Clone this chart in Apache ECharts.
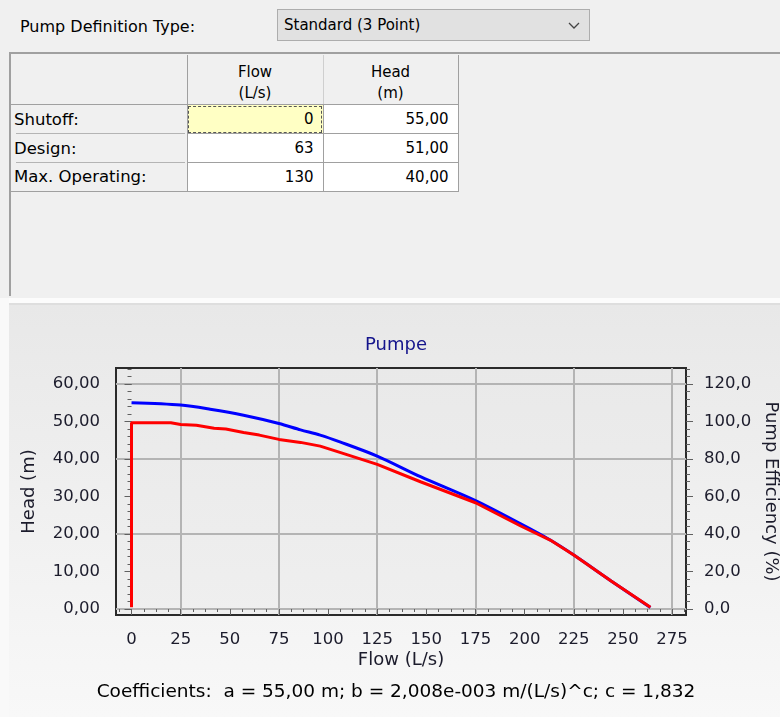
<!DOCTYPE html>
<html>
<head>
<meta charset="utf-8">
<title>Pumpe</title>
<script src="https://cdn.jsdelivr.net/npm/echarts@6/dist/echarts.min.js"></script>
<style>
  html, body { margin: 0; padding: 0; }
  body { position: relative; width: 780px; height: 717px; background: #f0f0f0; overflow: hidden;
         font: 15px "DejaVu Sans", sans-serif; color: #000; }
  .lbl { position: absolute; left: 20px; top: 17px; line-height: 20px; font-size: 16px; }
  .combo { position: absolute; left: 277px; top: 9px; width: 313px; height: 32px; box-sizing: border-box;
           border: 1px solid #adadad; background: #e1e1e1; padding-left: 6px; line-height: 30px; }
  .combo svg { position: absolute; right: 9px; top: 12px; }
  .panel { position: absolute; left: 9px; top: 52px; width: 771px; height: 244px; box-sizing: border-box;
           border-top: 2px solid #a0a0a0; border-left: 2px solid #a0a0a0; }
  .sep1 { position: absolute; left: 9px; top: 298px; width: 771px; height: 5px; background: #fcfcfc; }
  .sep2 { position: absolute; left: 9px; top: 303px; width: 771px; height: 2px; background: #dedede; }
  .lower { position: absolute; left: 9px; top: 305px; width: 771px; height: 412px;
           background: linear-gradient(#e8e8e8, #f8f8f8); }
  .strip { position: absolute; left: 0; top: 298px; width: 9px; height: 419px; background: #f9f9f9; }
  #pumpTable { position: absolute; left: 11px; top: 55px; border-collapse: collapse; table-layout: fixed;
               font: 15px "DejaVu Sans", sans-serif; border-bottom: 1px solid #a0a0a0; border-right: 1px solid #a0a0a0; }
  #pumpTable th { font-weight: normal; background: #f0f0f0; }
  #pumpTable thead th { height: 49px; padding: 7px 0 0 0; box-sizing: border-box; vertical-align: top;
                        line-height: 21px; text-align: center; border-bottom: 1px solid #a0a0a0; }
  #pumpTable thead th.corner { border-right: 1px solid #a0a0a0; }
  #pumpTable thead th.mid { border-right: 1px solid #cfcfcf; }
  #pumpTable tbody th { position: relative; text-align: left; padding: 0 0 0 3px; height: 29px; font-size: 16.5px;
                        box-sizing: border-box; border-right: 1px solid #a0a0a0; }
  #pumpTable tbody th::after { content: ''; position: absolute; left: 5px; right: 2px; bottom: -1px; height: 2px; background: #b4b4b4; }
  #pumpTable tbody tr:last-child th::after { display: none; }
  #pumpTable td { background: #fff; text-align: right; padding: 0 9px 0 0; height: 29px; box-sizing: border-box;
                  border: 1px solid #a0a0a0; }
  #pumpTable td.active { background: #ffffc4; outline: 1px dashed #555; outline-offset: -2px; }
  #chart { position: absolute; left: 0; top: 0; width: 780px; height: 717px; }
</style>
</head>
<body>
<div class="lbl">Pump Definition Type:</div>
<div class="combo">Standard (3 Point)
  <svg width="12" height="8" viewBox="0 0 12 8"><polyline points="1,1 6,6 11,1" fill="none" stroke="#444" stroke-width="1.3"/></svg>
</div>
<div class="panel"></div>
<table id="pumpTable">
  <colgroup><col style="width:176px"><col style="width:136px"><col style="width:135px"></colgroup>
  <thead><tr><th class="corner"></th><th class="mid">Flow<br>(L/s)</th><th>Head<br>(m)</th></tr></thead>
  <tbody></tbody>
</table>
<div class="strip"></div>
<div class="sep1"></div>
<div class="sep2"></div>
<div class="lower"></div>
<div id="chart"></div>
<script>
// pump definition table
const rowLabels = ['Shutoff:', 'Design:', 'Max. Operating:']
const tableFlow = ['0', '63', '130']
const tableHead = ['55,00', '51,00', '40,00']

// pump head curve (blue): flow L/s, head m
const headFlow = [0, 25, 40, 57, 75, 86, 96, 106, 125, 147, 175, 198, 213, 225, 244, 264]
const headValues = [55.0, 54.4, 53.3, 51.7, 49.5, 47.8, 46.4, 44.6, 40.8, 35.3, 28.9, 22.7, 18.4, 14.4, 7.5, 0.4]

// pump efficiency curve (red): flow L/s, efficiency %
const effFlow = [0, 0, 20, 25, 33, 42, 48, 57, 65, 75, 86, 96, 106, 125, 147, 175, 198, 213, 225, 244, 264]
const effValues = [0.9, 99.4, 99.4, 98.5, 98.1, 96.4, 96.0, 94.2, 92.8, 90.5, 88.9, 86.9, 83.6, 77.2, 67.9, 56.7, 44.3, 36.8, 28.8, 14.9, 0.9]

// tick labels
const flowTicks = [0, 25, 50, 75, 100, 125, 150, 175, 200, 225, 250, 275]
const headTicks = [0, 10, 20, 30, 40, 50, 60]
const effTicks = [0, 20, 40, 60, 80, 100, 120]
const flowGrid = [25, 75, 125, 175, 225, 275]
const headGrid = [0, 20, 40, 60]

const chartTitle = 'Pumpe'
const coefText = 'Coefficients:  a = 55,00 m; b = 2,008e-003 m/(L/s)^c; c = 1,832'

const tbody = document.querySelector('#pumpTable tbody')
rowLabels.forEach((label, i) => {
  const tr = document.createElement('tr')
  tr.innerHTML = '<th>' + label + '</th><td' + (i === 0 ? ' class="active"' : '') + '>' + tableFlow[i] + '</td><td>' + tableHead[i] + '</td>'
  tbody.appendChild(tr)
})

const font = 'DejaVu Sans'
const textColor = '#1c1c2c'
const labelSize = 16.5
const nameSize = 18

function comma(v, d) {
  return v.toFixed(d).replace('.', ',')
}

function steps(from, to, step) {
  const out = []
  for (let v = from; v <= to + 1e-9; v += step) out.push(+v.toFixed(4))
  return out
}

const xRange = { min: -7.9, max: 282.1 }
const leftRange = { min: -1.6, max: 64.3 }
const rightRange = { min: -3.2, max: 128.6 }

const hidden = { axisLine: { show: false }, axisLabel: { show: false }, splitLine: { show: false } }
const tickColor = '#606060'
const nameStyle = { color: textColor, fontFamily: font, fontSize: nameSize }

const chart = echarts.init(document.getElementById('chart'))
chart.setOption({
  backgroundColor: 'transparent',
  animation: false,
  grid: {
    left: 116,
    right: 94,
    top: 368,
    bottom: 102,
    outerBoundsMode: 'none',
    containLabel: false,
    show: true,
    backgroundColor: new echarts.graphic.LinearGradient(0, 0, 0, 1, [
      { offset: 0, color: '#e9e9e9' },
      { offset: 1, color: '#efefef' }
    ]),
    borderColor: '#2a2a2a',
    borderWidth: 2
  },
  xAxis: [
    {
      type: 'value', position: 'bottom', ...xRange,
      name: 'Flow (L/s)', nameLocation: 'middle', nameGap: 36, nameTextStyle: nameStyle,
      axisLine: { show: false },
      axisTick: { show: true, length: 6, customValues: flowTicks, lineStyle: { color: tickColor } },
      axisLabel: { customValues: flowTicks, margin: 16, color: textColor, fontFamily: font, fontSize: labelSize },
      splitLine: { show: false }
    },
    {
      type: 'value', position: 'bottom', ...xRange, ...hidden,
      axisTick: { show: true, length: 3, customValues: steps(-6.25, 281.25, 6.25), lineStyle: { color: tickColor } }
    },
    {
      type: 'value', position: 'bottom', ...xRange, axisLine: { show: false }, axisLabel: { show: false },
      axisTick: { show: false, customValues: flowGrid },
      splitLine: { show: true, lineStyle: { color: '#b4b4b4', width: 2 } }
    }
  ],
  yAxis: [
    {
      type: 'value', position: 'left', ...leftRange,
      name: 'Head (m)', nameLocation: 'middle', nameGap: 78, nameTextStyle: nameStyle,
      axisLine: { show: false },
      axisTick: { show: true, length: 7, customValues: headTicks, lineStyle: { color: tickColor } },
      axisLabel: { customValues: headTicks, margin: 16, formatter: v => comma(v, 2), color: textColor, fontFamily: font, fontSize: labelSize },
      splitLine: { show: false }
    },
    {
      type: 'value', position: 'left', ...leftRange, ...hidden,
      axisTick: { show: true, length: 4, customValues: steps(0, 64, 2), lineStyle: { color: tickColor } }
    },
    {
      type: 'value', position: 'left', ...leftRange, axisLine: { show: false }, axisLabel: { show: false },
      axisTick: { show: false, customValues: headGrid },
      splitLine: { show: true, lineStyle: { color: '#b4b4b4', width: 2 } }
    },
    {
      type: 'value', position: 'right', ...rightRange,
      name: 'Pump Efficiency (%)', nameLocation: 'middle', nameGap: 76, nameRotate: -90, nameTextStyle: nameStyle,
      axisLine: { show: false },
      axisTick: { show: true, length: 7, customValues: effTicks, lineStyle: { color: tickColor } },
      axisLabel: { customValues: effTicks, margin: 18, formatter: v => comma(v, 1), color: textColor, fontFamily: font, fontSize: labelSize },
      splitLine: { show: false }
    },
    {
      type: 'value', position: 'right', ...rightRange, ...hidden,
      axisTick: { show: true, length: 4, customValues: steps(0, 128, 4), lineStyle: { color: tickColor } }
    }
  ],
  graphic: [
    {
      type: 'text', x: 396, y: 345,
      style: { text: chartTitle, fill: '#14148c', font: '18px "DejaVu Sans"', align: 'center', verticalAlign: 'middle', textAlign: 'center', textVerticalAlign: 'middle' }
    },
    {
      type: 'text', x: 396, y: 692,
      style: { text: coefText, fill: '#000', font: '18.5px "DejaVu Sans"', align: 'center', verticalAlign: 'middle', textAlign: 'center', textVerticalAlign: 'middle' }
    }
  ],
  series: [
    {
      name: 'Head',
      type: 'line',
      xAxisIndex: 0,
      yAxisIndex: 0,
      data: headFlow.map((q, i) => [q, headValues[i]]),
      showSymbol: false,
      smooth: 0.3,
      lineStyle: { color: '#0000ff', width: 3 },
      itemStyle: { color: '#0000ff' },
      z: 3
    },
    {
      name: 'Efficiency',
      type: 'line',
      xAxisIndex: 0,
      yAxisIndex: 3,
      data: effFlow.map((q, i) => [q, effValues[i]]),
      showSymbol: false,
      lineStyle: { color: '#ff0000', width: 3 },
      itemStyle: { color: '#ff0000' },
      z: 4
    }
  ]
})
</script>
</body>
</html>
